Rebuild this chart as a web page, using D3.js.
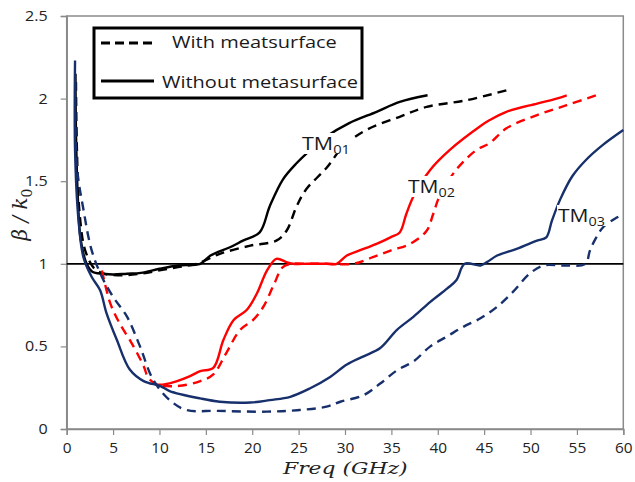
<!DOCTYPE html>
<html><head><meta charset="utf-8">
<script src="https://cdn.jsdelivr.net/npm/d3@7"></script>
<style>body{margin:0;background:#fff}svg{display:block}</style>
</head><body>
<svg id="c" width="635" height="482"></svg>
<script>
// ---------- data ----------
const xTicks = [0,5,10,15,20,25,30,35,40,45,50,55,60];
const yTicks = [0,0.5,1,1.5,2,2.5];
const legendLabels = ["With meatsurface", "Without metasurface"];
const modeNames = ["TM", "TM", "TM"];
const modeSubs = ["01", "02", "03"];
const xLabel = "Freq (GHz)";

const refF = [0, 60];
const refB = [1, 1];

const tm01SolidF = [0.95,1.0,1.2,1.5,2.15,2.8,3.9,5,6.5,8,10,12,14.4,15.5,17.6,19,20.8,21.9,23.3,24.8,25.9,28,30.4,33.4,35.9,38.9];
const tm01SolidB = [2.15,1.8,1.4,1.15,1.0,0.95,0.94,0.935,0.94,0.945,0.97,0.99,1.0,1.05,1.10,1.14,1.19,1.35,1.51,1.61,1.67,1.77,1.85,1.92,1.98,2.02];

const tm01DashF = [1.0,1.1,1.4,2.0,3.0,4.0,6,8,10,12,14,16.5,19.8,22.6,23.7,24.8,25.8,28,29.8,32.3,35.9,38.8,43.1,47.4];
const tm01DashB = [2.1,1.7,1.3,1.08,0.97,0.94,0.93,0.94,0.96,0.98,1.0,1.06,1.11,1.14,1.20,1.35,1.45,1.58,1.71,1.81,1.89,1.95,1.99,2.05];

const tm02SolidF = [9.5,10.5,11.9,13.3,14.4,15.8,16.9,18.0,19.4,20.5,21.6,22.6,23.7,24.4,26,28,29.1,30.2,32,33.4,34.9,35.9,36.6,37.4,39.2,41.3,44.5,45.6,47.4,50.7,52.8,53.9];
const tm02SolidB = [0.27,0.27,0.29,0.32,0.35,0.37,0.54,0.66,0.72,0.82,0.96,1.03,1.01,1.0,1.0,1.0,1.0,1.05,1.09,1.12,1.16,1.19,1.30,1.41,1.57,1.69,1.83,1.87,1.92,1.97,2.0,2.02];

const tm02DashF = [3.8,4.7,5.7,7.0,8.3,8.8,9.7,11.9,14.4,15.8,17.2,18.7,20.1,21.2,22.3,23.3,24.2,26,28,30.9,33,34.9,37,38.8,39.5,40.2,42,44.2,45.6,47.4,50.7,53.9,57.1];
const tm02DashB = [0.96,0.76,0.64,0.52,0.38,0.31,0.27,0.26,0.29,0.33,0.46,0.60,0.66,0.74,0.87,0.98,1.0,1.0,1.0,1.0,1.04,1.08,1.12,1.20,1.30,1.41,1.57,1.69,1.73,1.82,1.90,1.96,2.02];

const tm03SolidF = [0.9,0.9,1.25,1.8,2.7,3.6,4.3,5.4,6.8,8.3,10.1,11.1,14.4,16.5,19.8,21.9,24.1,26.2,28.4,30.2,32,33.8,35.6,37.4,39.2,41,42,42.9,44.6,45.3,46.4,48.5,50.7,51.7,52.3,53.2,54.5,56,57.8,60];
const tm03SolidB = [2.23,1.69,1.28,1.04,0.92,0.84,0.70,0.54,0.36,0.29,0.26,0.23,0.185,0.165,0.16,0.175,0.195,0.245,0.315,0.39,0.44,0.49,0.60,0.68,0.77,0.85,0.90,1.0,0.99,1.01,1.05,1.09,1.14,1.16,1.26,1.39,1.53,1.63,1.72,1.81];

const tm03DashF = [0.95,1.1,1.8,2.7,3.8,5,6.5,7.9,9.3,11.1,12.9,16.2,21.6,25.1,28,29.5,32,33.8,35.6,37.4,39.2,41,42.8,44.6,46.4,48.1,49.9,51.4,53.5,55.9,56.4,56.9,57.8,59.3,60];
const tm03DashB = [2.1,1.59,1.33,1.08,0.92,0.80,0.68,0.50,0.30,0.175,0.115,0.11,0.105,0.115,0.135,0.165,0.205,0.275,0.355,0.41,0.50,0.56,0.62,0.67,0.74,0.83,0.94,0.99,0.99,1.0,1.08,1.14,1.22,1.28,1.30];

// ---------- layout ----------
const svg = d3.select("#c");
const L = 66.7, R = 623.3, T = 16, B = 429;
const x = d3.scaleLinear().domain([0, 60]).range([L, R]);
const y = d3.scaleLinear().domain([0, 2.5]).range([B, T]);
const BLACK = "#000", RED = "#ff0000", NAVY = "#17306c", GRAY = "#8a8a8a";
const sansFont = "'Open Sans', sans-serif";
const zip = (f, b) => f.map((v, i) => [v, b[i]]);

svg.append("rect").attr("width", 635).attr("height", 482).attr("fill", "#fff");

// plot border
svg.append("rect").attr("x", L).attr("y", T).attr("width", R - L).attr("height", B - T)
  .attr("fill", "none").attr("stroke", GRAY).attr("stroke-width", 1.5);

// axes
const xAxis = svg.append("g").attr("transform", `translate(0,${B})`)
  .call(d3.axisBottom(x).tickValues(xTicks).tickSize(6).tickPadding(8).tickFormat(d3.format("d")));
const yAxis = svg.append("g").attr("transform", `translate(${L},0)`)
  .call(d3.axisLeft(y).tickValues(yTicks).tickSize(6).tickPadding(8).tickFormat(d => String(d)));
[xAxis, yAxis].forEach(g => {
  g.select(".domain").attr("stroke", GRAY).attr("stroke-width", 1.5);
  g.selectAll(".tick line").attr("stroke", GRAY).attr("stroke-width", 1.2);
  g.selectAll(".tick text").attr("fill", "#222").style("font-family", sansFont).style("font-size", "14px");
});
yAxis.selectAll(".tick text").each(function () {
  const t = d3.select(this);
  const x0 = +t.attr("x");
  t.attr("x", 0).attr("transform", `translate(${x0 - 5},0) scale(1.15,1)`);
});
xAxis.selectAll(".tick text").attr("transform", "scale(1.1,1)").attr("y", 14);

// reference line y=1
const lineGen = d3.line().x(d => x(d[0])).y(d => y(d[1])).curve(d3.curveCatmullRom.alpha(0.5));
svg.append("path").attr("d", d3.line().x(d => x(d[0])).y(d => y(d[1]))(zip(refF, refB)))
  .attr("stroke", BLACK).attr("stroke-width", 1.8).attr("fill", "none");

// series
const series = [
  { pts: zip(tm01DashF, tm01DashB), color: BLACK, dash: true },
  { pts: zip(tm01SolidF, tm01SolidB), color: BLACK, dash: false },
  { pts: zip(tm02DashF, tm02DashB), color: RED, dash: true },
  { pts: zip(tm02SolidF, tm02SolidB), color: RED, dash: false },
  { pts: zip(tm03DashF, tm03DashB), color: NAVY, dash: true },
  { pts: zip(tm03SolidF, tm03SolidB), color: NAVY, dash: false },
];
series.forEach(s => {
  svg.append("path").attr("d", lineGen(s.pts)).attr("fill", "none")
    .attr("stroke", s.color).attr("stroke-width", 2.4)
    .attr("stroke-dasharray", s.dash ? "9,6" : null)
    .attr("stroke-linejoin", "round");
});

// helper: text stretched horizontally to a target width
function fitText(g, tx, ty, targetW) {
  const w = g.node().getBBox().width;
  g.attr("transform", `translate(${tx},${ty}) scale(${targetW / w},1)`);
}

// mode labels
const modePos = [[302, 150, 48], [408, 193, 47], [558, 222, 47]];
modeNames.forEach((n, i) => {
  const [px, py, w] = modePos[i];
  svg.append("rect").attr("x", px - 1).attr("y", py - 17).attr("width", w + 3).attr("height", 21).attr("fill", "#fff");
  const t = svg.append("text").attr("x", 0).attr("y", 0)
    .style("font-family", sansFont).style("font-size", "19px").attr("fill", "#1a1a1a");
  t.append("tspan").text(n);
  t.append("tspan").attr("dy", 4).style("font-size", "13px").text(modeSubs[i]);
  fitText(t, px, py, w);
});

// legend
svg.append("rect").attr("x", 94).attr("y", 28).attr("width", 268).attr("height", 70)
  .attr("fill", "#fff").attr("stroke", "#000").attr("stroke-width", 3);
svg.append("line").attr("x1", 101).attr("x2", 154).attr("y1", 43).attr("y2", 43)
  .attr("stroke", "#000").attr("stroke-width", 3.2).attr("stroke-dasharray", "9,5");
svg.append("line").attr("x1", 101).attr("x2", 154).attr("y1", 81).attr("y2", 81)
  .attr("stroke", "#000").attr("stroke-width", 3.2);
const lt1 = svg.append("text").style("font-family", sansFont).style("font-size", "17px").attr("fill", "#1a1a1a").text(legendLabels[0]);
fitText(lt1, 172, 48, 165);
const lt2 = svg.append("text").style("font-family", sansFont).style("font-size", "17px").attr("fill", "#1a1a1a").text(legendLabels[1]);
fitText(lt2, 162, 88, 196);

// axis titles
const xt = svg.append("text").style("font-family", "'DejaVu Serif', serif").style("font-style", "italic")
  .style("font-size", "17px").attr("fill", "#222").text(xLabel);
fitText(xt, 283, 474, 126);

const yt = svg.append("text").style("font-family", "'DejaVu Serif', serif").style("font-style", "italic")
  .style("font-size", "20px").attr("fill", "#222");
yt.append("tspan").text("β / k");
yt.append("tspan").attr("dy", 5).style("font-size", "14px").style("font-style", "normal").text("0");
const yw = yt.node().getBBox().width;
yt.attr("transform", `translate(27,${214 + yw / 2}) rotate(-90)`);
</script>
</body></html>
